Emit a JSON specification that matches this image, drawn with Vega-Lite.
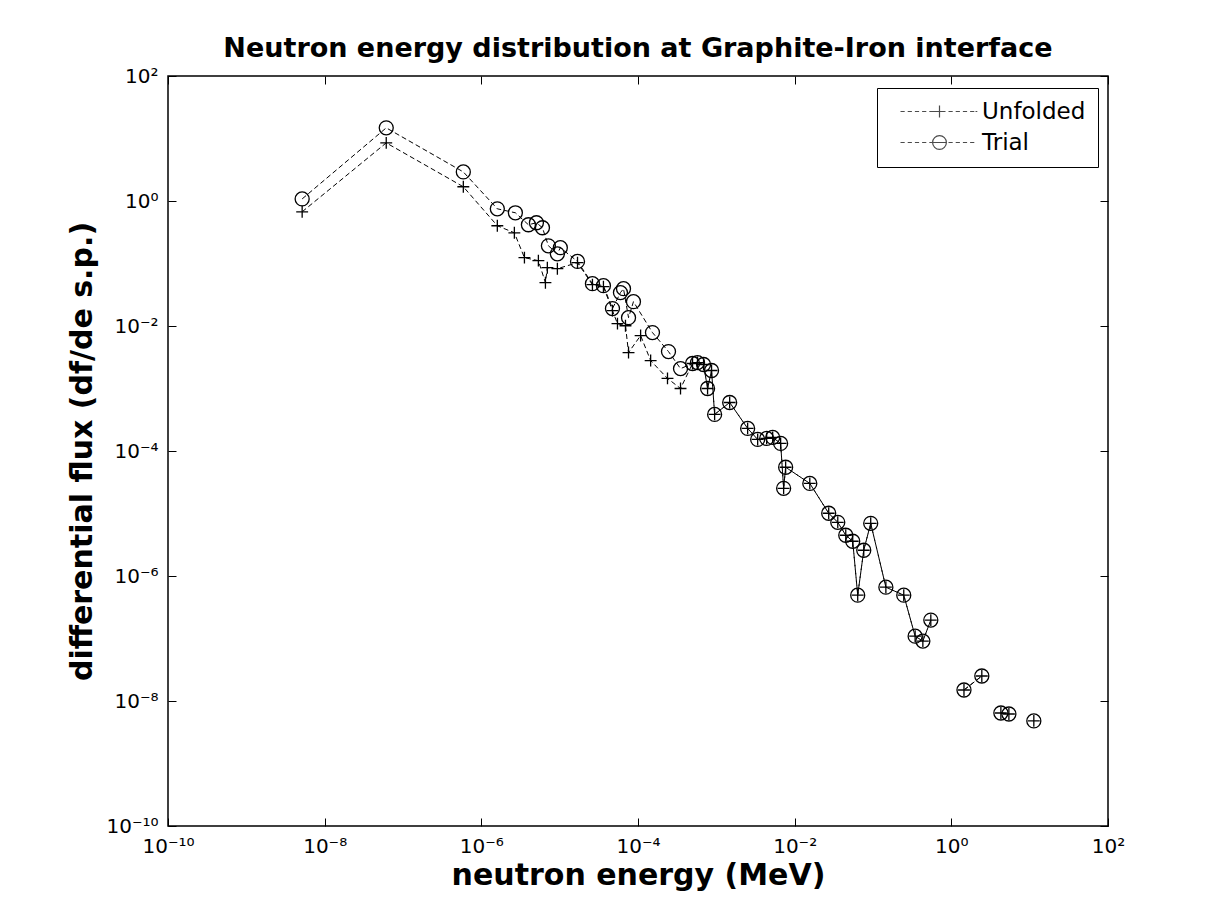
{
  "$schema": "https://vega.github.io/schema/vega-lite/v6.json",
  "autosize": {"type": "none"},
  "width": 940,
  "height": 750,
  "padding": {"left": 168, "top": 76, "right": 121, "bottom": 96},
  "background": "white",
  "title": {
    "text": "Neutron energy distribution at Graphite-Iron interface",
    "fontSize": 27,
    "fontWeight": "bold",
    "font": "DejaVu Sans",
    "anchor": "middle",
    "offset": 3,
    "color": "black"
  },
  "config": {
    "font": "DejaVu Sans",
    "view": {"stroke": "black", "strokeWidth": 1.5},
    "axis": {
      "domain": false,
      "grid": false,
      "labelFlush": false,
      "tickColor": "black",
      "tickSize": -8,
      "tickWidth": 1,
      "labelColor": "black",
      "labelFontSize": 20,
      "labelPadding": 18,
      "titleColor": "black",
      "titleFontSize": 30,
      "titleFontWeight": "bold"
    }
  },
  "data": {
    "values": [
      {"series": "Trial", "energy": 5.16e-9, "flux": 1.08, "seg": 1},
      {"series": "Trial", "energy": 6.11e-8, "flux": 14.8, "seg": 1},
      {"series": "Trial", "energy": 5.89e-7, "flux": 2.92, "seg": 1},
      {"series": "Trial", "energy": 1.60e-6, "flux": 0.750, "seg": 1},
      {"series": "Trial", "energy": 2.72e-6, "flux": 0.648, "seg": 1},
      {"series": "Trial", "energy": 3.99e-6, "flux": 0.417, "seg": 1},
      {"series": "Trial", "energy": 5.05e-6, "flux": 0.449, "seg": 1},
      {"series": "Trial", "energy": 6.03e-6, "flux": 0.373, "seg": 1},
      {"series": "Trial", "energy": 7.18e-6, "flux": 0.192, "seg": 1},
      {"series": "Trial", "energy": 9.35e-6, "flux": 0.143, "seg": 1},
      {"series": "Trial", "energy": 1.02e-5, "flux": 0.179, "seg": 1},
      {"series": "Trial", "energy": 1.69e-5, "flux": 0.108, "seg": 1},
      {"series": "Trial", "energy": 2.62e-5, "flux": 0.0475, "seg": 1},
      {"series": "Trial", "energy": 3.62e-5, "flux": 0.0442, "seg": 1},
      {"series": "Trial", "energy": 4.72e-5, "flux": 0.0190, "seg": 1},
      {"series": "Trial", "energy": 5.97e-5, "flux": 0.0342, "seg": 1},
      {"series": "Trial", "energy": 6.53e-5, "flux": 0.0395, "seg": 1},
      {"series": "Trial", "energy": 7.57e-5, "flux": 0.0136, "seg": 1},
      {"series": "Trial", "energy": 8.75e-5, "flux": 0.0245, "seg": 1},
      {"series": "Trial", "energy": 1.53e-4, "flux": 0.00785, "seg": 1},
      {"series": "Trial", "energy": 2.45e-4, "flux": 0.00390, "seg": 1},
      {"series": "Trial", "energy": 3.49e-4, "flux": 0.00208, "seg": 1},
      {"series": "Trial", "energy": 4.97e-4, "flux": 0.00251, "seg": 1},
      {"series": "Trial", "energy": 5.75e-4, "flux": 0.00260, "seg": 1},
      {"series": "Trial", "energy": 6.87e-4, "flux": 0.00242, "seg": 1},
      {"series": "Trial", "energy": 7.73e-4, "flux": 0.00100, "seg": 1},
      {"series": "Trial", "energy": 8.69e-4, "flux": 0.00194, "seg": 1},
      {"series": "Trial", "energy": 9.51e-4, "flux": 0.000385, "seg": 1},
      {"series": "Trial", "energy": 1.48e-3, "flux": 0.000597, "seg": 1},
      {"series": "Trial", "energy": 2.51e-3, "flux": 0.000230, "seg": 1},
      {"series": "Trial", "energy": 3.37e-3, "flux": 0.000153, "seg": 1},
      {"series": "Trial", "energy": 4.39e-3, "flux": 0.000159, "seg": 1},
      {"series": "Trial", "energy": 5.24e-3, "flux": 0.000165, "seg": 1},
      {"series": "Trial", "energy": 6.62e-3, "flux": 0.000132, "seg": 1},
      {"series": "Trial", "energy": 7.23e-3, "flux": 2.53e-5, "seg": 1},
      {"series": "Trial", "energy": 7.67e-3, "flux": 5.5e-5, "seg": 1},
      {"series": "Trial", "energy": 1.56e-2, "flux": 3.03e-5, "seg": 1},
      {"series": "Trial", "energy": 2.72e-2, "flux": 1.01e-5, "seg": 1},
      {"series": "Trial", "energy": 3.55e-2, "flux": 7.23e-6, "seg": 1},
      {"series": "Trial", "energy": 4.49e-2, "flux": 4.49e-6, "seg": 1},
      {"series": "Trial", "energy": 5.51e-2, "flux": 3.60e-6, "seg": 1},
      {"series": "Trial", "energy": 6.38e-2, "flux": 4.93e-7, "seg": 1},
      {"series": "Trial", "energy": 7.62e-2, "flux": 2.58e-6, "seg": 1},
      {"series": "Trial", "energy": 9.35e-2, "flux": 6.97e-6, "seg": 1},
      {"series": "Trial", "energy": 0.146, "flux": 6.62e-7, "seg": 1},
      {"series": "Trial", "energy": 0.247, "flux": 4.93e-7, "seg": 1},
      {"series": "Trial", "energy": 0.345, "flux": 1.09e-7, "seg": 1},
      {"series": "Trial", "energy": 0.433, "flux": 9.08e-8, "seg": 1},
      {"series": "Trial", "energy": 0.547, "flux": 1.97e-7, "seg": 1},
      {"series": "Trial", "energy": 1.45, "flux": 1.50e-8, "seg": 2},
      {"series": "Trial", "energy": 2.45, "flux": 2.51e-8, "seg": 2},
      {"series": "Trial", "energy": 4.29, "flux": 6.43e-9, "seg": 3},
      {"series": "Trial", "energy": 5.43, "flux": 6.19e-9, "seg": 3},
      {"series": "Trial", "energy": 11.3, "flux": 4.80e-9, "seg": 4},
      {"series": "Unfolded", "energy": 5.16e-9, "flux": 0.672, "seg": 1},
      {"series": "Unfolded", "energy": 6.11e-8, "flux": 8.51, "seg": 1},
      {"series": "Unfolded", "energy": 5.89e-7, "flux": 1.69, "seg": 1},
      {"series": "Unfolded", "energy": 1.60e-6, "flux": 0.402, "seg": 1},
      {"series": "Unfolded", "energy": 2.64e-6, "flux": 0.310, "seg": 1},
      {"series": "Unfolded", "energy": 3.55e-6, "flux": 0.124, "seg": 1},
      {"series": "Unfolded", "energy": 5.35e-6, "flux": 0.111, "seg": 1},
      {"series": "Unfolded", "energy": 6.58e-6, "flux": 0.0493, "seg": 1},
      {"series": "Unfolded", "energy": 6.96e-6, "flux": 0.0857, "seg": 1},
      {"series": "Unfolded", "energy": 9.35e-6, "flux": 0.0826, "seg": 1},
      {"series": "Unfolded", "energy": 1.69e-5, "flux": 0.103, "seg": 1},
      {"series": "Unfolded", "energy": 2.62e-5, "flux": 0.0458, "seg": 1},
      {"series": "Unfolded", "energy": 3.62e-5, "flux": 0.0426, "seg": 1},
      {"series": "Unfolded", "energy": 4.72e-5, "flux": 0.0176, "seg": 1},
      {"series": "Unfolded", "energy": 5.47e-5, "flux": 0.0109, "seg": 1},
      {"series": "Unfolded", "energy": 6.92e-5, "flux": 0.0101, "seg": 1},
      {"series": "Unfolded", "energy": 7.57e-5, "flux": 0.00376, "seg": 1},
      {"series": "Unfolded", "energy": 1.08e-4, "flux": 0.00703, "seg": 1},
      {"series": "Unfolded", "energy": 1.45e-4, "flux": 0.00280, "seg": 1},
      {"series": "Unfolded", "energy": 2.38e-4, "flux": 0.00145, "seg": 1},
      {"series": "Unfolded", "energy": 3.49e-4, "flux": 0.00100, "seg": 1},
      {"series": "Unfolded", "energy": 4.97e-4, "flux": 0.00251, "seg": 1},
      {"series": "Unfolded", "energy": 5.75e-4, "flux": 0.00260, "seg": 1},
      {"series": "Unfolded", "energy": 6.87e-4, "flux": 0.00242, "seg": 1},
      {"series": "Unfolded", "energy": 7.73e-4, "flux": 0.00100, "seg": 1},
      {"series": "Unfolded", "energy": 8.69e-4, "flux": 0.00194, "seg": 1},
      {"series": "Unfolded", "energy": 9.51e-4, "flux": 0.000385, "seg": 1},
      {"series": "Unfolded", "energy": 1.48e-3, "flux": 0.000597, "seg": 1},
      {"series": "Unfolded", "energy": 2.51e-3, "flux": 0.000230, "seg": 1},
      {"series": "Unfolded", "energy": 3.37e-3, "flux": 0.000153, "seg": 1},
      {"series": "Unfolded", "energy": 4.39e-3, "flux": 0.000159, "seg": 1},
      {"series": "Unfolded", "energy": 5.24e-3, "flux": 0.000165, "seg": 1},
      {"series": "Unfolded", "energy": 6.62e-3, "flux": 0.000132, "seg": 1},
      {"series": "Unfolded", "energy": 7.23e-3, "flux": 2.53e-5, "seg": 1},
      {"series": "Unfolded", "energy": 7.67e-3, "flux": 5.5e-5, "seg": 1},
      {"series": "Unfolded", "energy": 1.56e-2, "flux": 3.03e-5, "seg": 1},
      {"series": "Unfolded", "energy": 2.72e-2, "flux": 1.01e-5, "seg": 1},
      {"series": "Unfolded", "energy": 3.55e-2, "flux": 7.23e-6, "seg": 1},
      {"series": "Unfolded", "energy": 4.49e-2, "flux": 4.49e-6, "seg": 1},
      {"series": "Unfolded", "energy": 5.51e-2, "flux": 3.60e-6, "seg": 1},
      {"series": "Unfolded", "energy": 6.38e-2, "flux": 4.93e-7, "seg": 1},
      {"series": "Unfolded", "energy": 7.62e-2, "flux": 2.58e-6, "seg": 1},
      {"series": "Unfolded", "energy": 9.35e-2, "flux": 6.97e-6, "seg": 1},
      {"series": "Unfolded", "energy": 0.146, "flux": 6.62e-7, "seg": 1},
      {"series": "Unfolded", "energy": 0.247, "flux": 4.93e-7, "seg": 1},
      {"series": "Unfolded", "energy": 0.345, "flux": 1.09e-7, "seg": 1},
      {"series": "Unfolded", "energy": 0.433, "flux": 9.08e-8, "seg": 1},
      {"series": "Unfolded", "energy": 0.547, "flux": 1.97e-7, "seg": 1},
      {"series": "Unfolded", "energy": 1.45, "flux": 1.50e-8, "seg": 2},
      {"series": "Unfolded", "energy": 2.45, "flux": 2.51e-8, "seg": 2},
      {"series": "Unfolded", "energy": 4.29, "flux": 6.43e-9, "seg": 3},
      {"series": "Unfolded", "energy": 5.43, "flux": 6.19e-9, "seg": 3},
      {"series": "Unfolded", "energy": 11.3, "flux": 4.80e-9, "seg": 4}
    ]
  },
  "layer": [
    {
      "mark": {"type": "line", "stroke": "black", "strokeWidth": 1, "strokeDash": [5, 3]},
      "encoding": {
        "x": {
          "field": "energy", "type": "quantitative",
          "scale": {"type": "log", "domain": [1e-10, 100], "nice": false},
          "axis": {
            "orient": "bottom",
            "title": "neutron energy (MeV)",
            "titlePadding": 4,
            "values": [1e-10, 1e-8, 1e-6, 1e-4, 1e-2, 1, 100],
            "labelExpr": "datum.value < 1e-9 ? '10⁻¹⁰' : datum.value < 1e-7 ? '10⁻⁸' : datum.value < 1e-5 ? '10⁻⁶' : datum.value < 1e-3 ? '10⁻⁴' : datum.value < 0.1 ? '10⁻²' : datum.value < 10 ? '10⁰' : '10²'"
          }
        },
        "y": {
          "field": "flux", "type": "quantitative",
          "scale": {"type": "log", "domain": [1e-10, 100], "nice": false},
          "axis": {
            "orient": "left",
            "title": "differential flux (df/de s.p.)",
            "titlePadding": 8,
            "values": [1e-10, 1e-8, 1e-6, 1e-4, 1e-2, 1, 100],
            "labelExpr": "datum.value < 1e-9 ? '10⁻¹⁰' : datum.value < 1e-7 ? '10⁻⁸' : datum.value < 1e-5 ? '10⁻⁶' : datum.value < 1e-3 ? '10⁻⁴' : datum.value < 0.1 ? '10⁻²' : datum.value < 10 ? '10⁰' : '10²'"
          }
        },
        "detail": [{"field": "series", "type": "nominal"}, {"field": "seg", "type": "nominal"}]
      }
    },
    {
      "mark": {"type": "point", "filled": false, "stroke": "black", "strokeWidth": 1.3, "size": 196, "opacity": 1},
      "encoding": {
        "x": {"field": "energy", "type": "quantitative", "axis": null},
        "y": {"field": "flux", "type": "quantitative", "axis": null},
        "shape": {
          "field": "series", "type": "nominal",
          "scale": {"domain": ["Unfolded", "Trial"], "range": ["M-0.85,0H0.85M0,-0.85V0.85", "circle"]},
          "legend": null
        }
      }
    },
    {
      "transform": [{"filter": "datum.flux < 0"}],
      "mark": {"type": "point", "filled": false, "stroke": "black", "strokeWidth": 1.2, "size": 144},
      "encoding": {
        "shape": {
          "field": "series", "type": "nominal",
          "scale": {
            "domain": ["Unfolded", "Trial"],
            "range": [
              "M0,0H0.7M1.2,0H1.9M2.4,0H3.1M3.6,0H4.3M4.8,0H5.5M5.5,0H7.5M6.5,-1V1M8,0H8.7M9.2,0H9.9M10.4,0H11.1M11.6,0H12.3M12.8,0H12.5",
              "M0,0H0.7M1.2,0H1.9M2.4,0H3.1M3.6,0H4.3M4.8,0H5.35M5.35,0H7.65M7.65,0A1.15,1.15 0 1,1 5.35,0A1.15,1.15 0 1,1 7.65,0M8,0H8.7M9.2,0H9.9M10.4,0H11.1M11.6,0H12.3"
            ]
          },
          "legend": {
            "title": null,
            "orient": "none",
            "legendX": 709,
            "legendY": 12,
            "padding": 12,
            "rowPadding": 7,
            "strokeColor": "black",
            "fillColor": "white",
            "symbolSize": 144,
            "symbolStrokeWidth": 1.2,
            "symbolStrokeColor": "black",
            "symbolFillColor": "transparent",
            "labelFontSize": 23,
            "labelColor": "black",
            "labelOffset": 70
          }
        }
      }
    },
    {
      "mark": {"type": "point", "opacity": 0},
      "encoding": {
        "x": {
          "field": "energy", "type": "quantitative",
          "axis": {"orient": "top", "labels": false, "title": null, "values": [1e-10, 1e-8, 1e-6, 1e-4, 1e-2, 1, 100]}
        },
        "y": {
          "field": "flux", "type": "quantitative",
          "axis": {"orient": "right", "labels": false, "title": null, "values": [1e-10, 1e-8, 1e-6, 1e-4, 1e-2, 1, 100]}
        }
      }
    }
  ],
  "resolve": {
    "axis": {"x": "independent", "y": "independent"},
    "scale": {"shape": "independent"}
  }
}
